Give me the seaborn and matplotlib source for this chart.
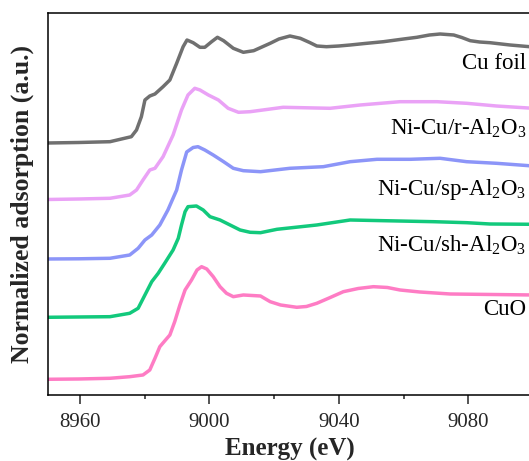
import numpy as np
import pandas as pd
import matplotlib
matplotlib.use("Agg")
import matplotlib.pyplot as plt
from matplotlib.ticker import MultipleLocator
import seaborn as sns

# Cu K-edge XANES, stacked curves (energy in eV, normalized absorption + offset)
cu_foil_E = [8950, 8959.7, 8969.3, 8975.9, 8977.5, 8979.0, 8980.1, 8981.6, 8983.2, 8985.7,
             8987.8, 8989.9, 8991.9, 8993.1, 8995.0, 8997.1, 8998.6, 9000.7, 9002.5, 9004.4,
             9007.4, 9010.5, 9013.7, 9018.8, 9021.5, 9024.9, 9028.1, 9031.0, 9033.2, 9036.2,
             9040.0, 9043.5, 9048.0, 9053.8, 9060.0, 9064.1, 9068.0, 9071.3, 9075.5, 9078.0,
             9080.6, 9083.5, 9086.7, 9092.9, 9100]
cu_foil = [2.52, 2.525, 2.533, 2.583, 2.65, 2.783, 2.95, 2.99, 3.01, 3.083,
           3.15, 3.317, 3.483, 3.55, 3.523, 3.477, 3.477, 3.533, 3.577, 3.543,
           3.467, 3.427, 3.443, 3.517, 3.56, 3.59, 3.567, 3.525, 3.49, 3.483,
           3.49, 3.50, 3.515, 3.533, 3.56, 3.577, 3.60, 3.61, 3.60, 3.575,
           3.543, 3.53, 3.523, 3.50, 3.48]

r_E = [8950, 8959.7, 8969.3, 8975.4, 8977.5, 8979.5, 8981.6, 8983.2, 8985.7, 8988.8,
       8991.4, 8993.4, 8995.5, 8997.1, 8999.7, 9002.8, 9005.8, 9009.0, 9012.6, 9022.8,
       9037.3, 9046.6, 9058.9, 9070.3, 9079.5, 9088.7, 9100]
r_al2o3 = [1.955, 1.96, 1.967, 2.00, 2.05, 2.15, 2.25, 2.267, 2.383, 2.60,
           2.85, 3.00, 3.067, 3.05, 3.00, 2.95, 2.867, 2.827, 2.833, 2.877,
           2.867, 2.90, 2.933, 2.933, 2.917, 2.89, 2.867]

sp_E = [8950, 8959.7, 8969.3, 8975.4, 8978.0, 8980.1, 8982.2, 8984.7, 8987.2, 8989.9,
        8991.4, 8993.0, 8995.0, 8996.5, 8998.6, 9001.2, 9004.4, 9007.4, 9010.5, 9015.8,
        9024.9, 9035.2, 9043.5, 9051.8, 9062.1, 9071.3, 9079.5, 9088.7, 9100]
sp_al2o3 = [1.36, 1.362, 1.367, 1.40, 1.467, 1.55, 1.60, 1.70, 1.85, 2.05,
            2.25, 2.43, 2.475, 2.483, 2.45, 2.40, 2.333, 2.267, 2.243, 2.233,
            2.267, 2.283, 2.333, 2.357, 2.357, 2.367, 2.333, 2.317, 2.29]

sh_E = [8950, 8959.7, 8969.3, 8975.4, 8978.0, 8980.1, 8982.2, 8984.2, 8986.2, 8988.8,
        8990.4, 8991.4, 8992.5, 8993.4, 8996.0, 8998.1, 9000.2, 9003.3, 9006.4, 9009.5,
        9012.6, 9015.8, 9020.9, 9033.2, 9043.5, 9053.8, 9069.3, 9079.5, 9086.7, 9100]
sh_al2o3 = [0.777, 0.78, 0.783, 0.817, 0.867, 1.00, 1.133, 1.217, 1.317, 1.45,
            1.567, 1.70, 1.833, 1.883, 1.89, 1.85, 1.783, 1.75, 1.70, 1.65,
            1.627, 1.623, 1.657, 1.70, 1.75, 1.743, 1.733, 1.723, 1.71, 1.707]

cuo_E = [8950, 8959.7, 8969.3, 8975.4, 8979.5, 8981.6, 8983.2, 8984.7, 8986.2, 8987.8,
         8989.3, 8990.9, 8992.5, 8994.5, 8996.2, 8997.6, 8999.2, 9001.2, 9003.3, 9005.3,
         9007.4, 9010.5, 9015.8, 9018.8, 9022.0, 9027.0, 9030.0, 9033.2, 9037.0, 9041.4,
         9046.0, 9050.7, 9055.0, 9058.9, 9065.0, 9074.4, 9100]
cuo = [0.157, 0.16, 0.167, 0.183, 0.20, 0.25, 0.367, 0.483, 0.54, 0.60,
       0.733, 0.90, 1.05, 1.15, 1.25, 1.283, 1.26, 1.183, 1.083, 1.017,
       0.983, 1.00, 0.99, 0.933, 0.90, 0.877, 0.885, 0.917, 0.97, 1.033,
       1.065, 1.083, 1.075, 1.05, 1.03, 1.01, 1.00]

labels = ["Cu foil", "Ni-Cu/r-Al$_2$O$_3$", "Ni-Cu/sp-Al$_2$O$_3$", "Ni-Cu/sh-Al$_2$O$_3$", "CuO"]
energies = [cu_foil_E, r_E, sp_E, sh_E, cuo_E]
spectra = [cu_foil, r_al2o3, sp_al2o3, sh_al2o3, cuo]
colors = ["#707070", "#eaa2f6", "#8c95f8", "#12c97c", "#fe7cc4"]

sns.set_style("ticks")
plt.rcParams["font.family"] = ["Liberation Serif", "DejaVu Serif"]
plt.rcParams["mathtext.fontset"] = "custom"
plt.rcParams["mathtext.rm"] = "Liberation Serif"
plt.rcParams["mathtext.it"] = "Liberation Serif:italic"
plt.rcParams["mathtext.bf"] = "Liberation Serif:bold"

fig = plt.figure(figsize=(5.29, 4.61), dpi=100)
ax = fig.add_axes([0.0898, 0.1432, 0.9178, 0.8286])

for E, mu, c in zip(energies, spectra, colors):
    sns.lineplot(x=E, y=mu, ax=ax, color=c, lw=2.5, sort=False, estimator=None,
                 solid_joinstyle="round", solid_capstyle="round")

# sample labels, right-aligned under each curve end
label_y = [3.26, 2.60, 2.00, 1.43, 0.80]
for lab, ly in zip(labels, label_y):
    ax.text(9098, ly, lab, ha="right", va="baseline", fontsize=16.5, color="black")

ax.set_xlim(8950, 9100)
ax.set_ylim(0, 3.82)
ax.xaxis.set_major_locator(MultipleLocator(40))
ax.xaxis.set_minor_locator(MultipleLocator(20))
ax.set_yticks([])
ax.tick_params(axis="x", which="major", length=6.5, width=1.1, pad=6.5, labelsize=15, direction="out")
ax.tick_params(axis="x", which="minor", length=3.1, width=1.1, direction="out")
for s in ["left", "bottom", "top"]:
    ax.spines[s].set_linewidth(1.1)
    ax.spines[s].set_color("black")
ax.spines["right"].set_visible(False)

ax.set_xlabel("Energy (eV)", fontsize=18, fontweight="bold")
ax.set_ylabel("Normalized adsorption (a.u.)", fontsize=18.5, fontweight="bold")
ax.xaxis.set_label_coords(0.5, -0.112)
ax.xaxis.label.set_va("top")
ax.yaxis.set_label_coords(-0.028, 0.5)

fig.savefig("out.png", dpi=100)
